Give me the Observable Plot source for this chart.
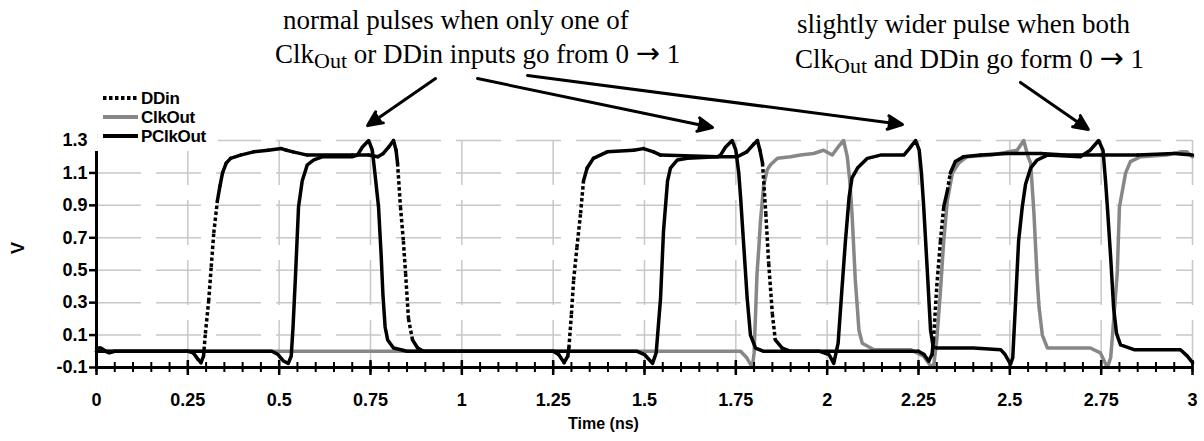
<!DOCTYPE html>
<html><head><meta charset="utf-8">
<script src="https://cdn.jsdelivr.net/npm/d3@7"></script>
<script src="https://cdn.jsdelivr.net/npm/@observablehq/plot@0.6"></script>
<style>
body{margin:0;background:#fff;}
#chart{position:relative;width:1204px;height:441px;}
</style></head><body><div id="chart"></div>
<script>
// ---- tick labels / axes ----
const xMajorTicks = [0,0.25,0.5,0.75,1,1.25,1.5,1.75,2,2.25,2.5,2.75,3];
const xMinorTicks = d3.range(0,61).map(i => +(i*0.05).toFixed(2));
const yTicks = [-0.1,0.1,0.3,0.5,0.7,0.9,1.1,1.3];
const seriesNames = ["DDin","ClkOut","PClkOut"];
const xTitle = "Time (ns)";
const yTitle = "V";

// ---- series: DDin ----
const ddinT = [0,0.25,0.265,0.278,0.286,0.293,0.298,0.307,0.314,0.321,0.331,0.338,0.345,0.355,0.367,0.394,0.43,0.47,0.506,0.52,0.538,0.577,0.70,0.745,0.77,0.785,0.80,0.813,0.820,0.824,0.832,0.84,0.846,0.854,0.865,0.879,0.895,
  1.25,1.265,1.28,1.29,1.293,1.300,1.306,1.315,1.325,1.333,1.343,1.36,1.398,1.47,1.497,1.525,1.544,1.70,1.754,1.78,1.80,1.809,1.816,1.823,1.832,1.84,1.85,1.858,1.877,1.90,
  2.25,2.265,2.278,2.287,2.291,2.30,2.31,2.319,2.329,2.337,2.351,2.373,2.42,2.493,2.584,2.65,2.75,2.85,2.95,3.0];
const ddinV = [0,0,-0.01,-0.05,-0.07,-0.03,0.11,0.31,0.52,0.73,0.93,1.02,1.10,1.16,1.19,1.21,1.23,1.24,1.25,1.24,1.23,1.21,1.21,1.21,1.20,1.22,1.26,1.30,1.24,1.16,0.89,0.68,0.48,0.20,0.07,0.02,0.00,
  0,-0.02,-0.07,-0.03,0.02,0.23,0.44,0.64,0.85,1.05,1.13,1.19,1.23,1.24,1.25,1.23,1.21,1.20,1.20,1.23,1.28,1.30,1.24,1.16,0.85,0.54,0.23,0.07,0.02,0.00,
  0,-0.02,-0.06,-0.02,0.07,0.40,0.68,0.89,0.99,1.10,1.17,1.20,1.21,1.22,1.22,1.21,1.21,1.21,1.22,1.21];

// ---- series: ClkOut ----
const clkT = [0,1.74,1.763,1.78,1.795,1.80,1.804,1.808,1.813,1.817,1.826,1.836,1.845,1.864,1.90,1.927,1.963,1.99,2.014,2.03,2.045,2.055,2.062,2.068,2.077,2.087,2.096,2.128,2.228,2.264,2.28,2.291,2.30,2.31,2.319,2.329,2.343,2.36,2.383,2.45,2.52,2.538,2.55,2.557,2.566,2.575,2.58,2.589,2.603,2.72,2.748,2.767,2.776,2.78,2.794,2.80,2.817,2.83,2.858,2.93,2.967,2.985,3.0];
const clkV = [0,0,0,-0.04,-0.10,-0.01,0.23,0.48,0.64,0.79,1.02,1.12,1.15,1.19,1.20,1.21,1.22,1.24,1.21,1.26,1.30,1.20,1.05,0.85,0.44,0.13,0.05,0.01,0.01,-0.03,-0.08,-0.10,0.07,0.37,0.68,0.93,1.10,1.16,1.20,1.21,1.24,1.30,1.20,1.16,0.85,0.44,0.27,0.10,0.02,0.02,-0.01,-0.10,-0.04,0.07,0.48,0.89,1.10,1.17,1.20,1.21,1.23,1.23,1.20];

// ---- series: PClkOut ----
const pclkT = [0,0.012,0.025,0.035,0.05,0.48,0.497,0.512,0.525,0.533,0.538,0.545,0.553,0.563,0.577,0.595,0.62,0.70,0.714,0.728,0.745,0.755,0.762,0.772,0.779,0.784,0.79,0.797,0.813,0.85,
  1.48,1.50,1.508,1.522,1.532,1.544,1.552,1.563,1.571,1.59,1.617,1.70,1.708,1.722,1.740,1.750,1.758,1.763,1.772,1.781,1.79,1.804,1.826,
  1.98,2.005,2.018,2.03,2.04,2.05,2.06,2.068,2.083,2.11,2.146,2.21,2.225,2.242,2.252,2.258,2.264,2.274,2.283,2.29,2.30,2.40,2.475,2.487,2.502,2.508,2.515,2.524,2.534,2.543,2.557,2.575,2.603,2.693,2.72,2.743,2.755,2.762,2.767,2.776,2.784,2.792,2.803,2.84,2.967,2.986,3.0];
const pclkV = [0.02,0.02,0.00,-0.01,0.00,0.00,-0.02,-0.06,-0.075,-0.03,0.15,0.48,0.89,1.05,1.15,1.18,1.20,1.20,1.21,1.26,1.30,1.24,1.10,0.89,0.60,0.35,0.15,0.07,0.02,0.00,
  0.00,-0.02,-0.04,-0.075,-0.01,0.33,0.74,1.05,1.13,1.18,1.19,1.20,1.21,1.26,1.30,1.24,1.10,0.95,0.64,0.33,0.10,0.02,0.00,
  0.00,-0.02,-0.075,0.05,0.37,0.68,0.95,1.07,1.13,1.19,1.21,1.21,1.25,1.30,1.24,1.10,0.90,0.50,0.13,0.03,0.02,0.02,0.01,-0.02,-0.08,-0.04,0.27,0.68,0.89,1.03,1.13,1.18,1.21,1.20,1.24,1.30,1.24,1.05,0.89,0.58,0.27,0.11,0.04,0.01,0.01,-0.03,-0.07];

// ---- annotation arrows (data units: ns, V) ----
const arrowX1 = [0.928,1.043,1.180,2.529];
const arrowY1 = [1.682,1.682,1.701,1.658];
const arrowX2 = [0.742,1.686,2.206,2.715];
const arrowY2 = [1.392,1.380,1.399,1.368];

const ddinSeg = ddinT.slice(1).map((t,i)=>({t1: ddinT[i], v1: ddinV[i], t2: t, v2: ddinV[i+1]}));
const clk = clkT.map((t,i)=>({t, v: clkV[i]}));
const pclk = pclkT.map((t,i)=>({t, v: pclkV[i]}));
const arrows = arrowX1.map((x1,i)=>({x1, y1: arrowY1[i], x2: arrowX2[i], y2: arrowY2[i]}));

const gridColor = "#c8c8c8";
const gray = "#878787";
const steep = s => Math.abs(s.v2 - s.v1) >= 0.1;

const plot = Plot.plot({
  width: 1204, height: 441,
  marginLeft: 96, marginRight: 12, marginTop: 140, marginBottom: 74,
  x: {domain: [0,3]},
  y: {domain: [-0.1,1.3]},
  style: {fontFamily: "'Liberation Sans', Arial, sans-serif", background: "white", color: "black"},
  marks: [
    Plot.ruleY(yTicks.filter(d => d > -0.1), {y: d => d, stroke: gridColor, strokeWidth: 1.5, strokeDasharray: "45,15"}),
    Plot.ruleX(xMajorTicks.filter(d => d > 0), {x: d => d, stroke: gridColor, strokeWidth: 1.5, strokeDasharray: "45,15"}),
    Plot.line(clk, {x: "t", y: "v", stroke: gray, strokeWidth: 3.5, strokeLinejoin: "round"}),
    Plot.line(pclk, {x: "t", y: "v", stroke: "black", strokeWidth: 3.5, strokeLinejoin: "round"}),
    Plot.link(ddinSeg.filter(s => !steep(s)), {x1: "t1", y1: "v1", x2: "t2", y2: "v2", stroke: "black", strokeWidth: 3.5, strokeLinecap: "round"}),
    Plot.link(ddinSeg.filter(steep), {x1: "t1", y1: "v1", x2: "t2", y2: "v2", stroke: "black", strokeWidth: 3.5, strokeDasharray: "3.5,2.5", strokeLinecap: "butt"}),
    Plot.ruleY([-0.1], {y: d => d, strokeWidth: 3}),
    Plot.ruleX([0], {x: d => d, strokeWidth: 3}),
    Plot.ruleX(xMinorTicks, {x: d => d, y1: () => -0.1, y2: () => -0.1, insetTop: -5, insetBottom: -5, strokeWidth: 2}),
    Plot.ruleX(xMajorTicks, {x: d => d, y1: () => -0.1, y2: () => -0.1, insetTop: -7, insetBottom: -8, strokeWidth: 2.5}),
    Plot.ruleY(yTicks, {y: d => d, x1: () => 0, x2: () => 0, insetLeft: -7, strokeWidth: 2.5}),
    Plot.axisX(xMajorTicks, {tickSize: 0, tickPadding: 26, fontSize: 18, fontWeight: "bold", tickFormat: d => String(d), label: null}),
    Plot.axisY(yTicks, {tickSize: 0, tickPadding: 9, fontSize: 18, fontWeight: "bold", tickFormat: d => d.toFixed(1), label: null}),
    Plot.text([yTitle], {text: d => d, frameAnchor: "left", dx: -78, rotate: -90, fontSize: 18, fontWeight: "bold"}),
    Plot.text([xTitle], {text: d => d, frameAnchor: "bottom", dx: -41, dy: 61, fontSize: 16, fontWeight: "bold"}),
    Plot.arrow(arrows, {x1: "x1", y1: "y1", x2: "x2", y2: "y2", stroke: "black", fill: "black", strokeWidth: 3, headLength: 8, headAngle: 50})
  ]
});

const svg = d3.select(plot);
// legend (white box over the plot's top-left corner)
const legendStyles = {
  DDin: {stroke: "black", dash: "3.5,2.5"},
  ClkOut: {stroke: gray, dash: null},
  PClkOut: {stroke: "black", dash: null}
};
const lg = svg.append("g").attr("text-anchor", "start");
lg.append("rect").attr("x", 88).attr("y", 0).attr("width", 130).attr("height", 151).attr("fill", "white");
seriesNames.forEach((name, i) => {
  const yy = 98 + i * 19;
  lg.append("line").attr("x1", 103).attr("x2", 138).attr("y1", yy).attr("y2", yy)
    .attr("stroke", legendStyles[name].stroke).attr("stroke-width", 4)
    .attr("stroke-dasharray", legendStyles[name].dash);
  lg.append("text").attr("x", 141).attr("y", yy).attr("dy", "0.36em")
    .attr("font-family", "'Liberation Sans', Arial, sans-serif").attr("font-weight", "bold")
    .attr("font-size", 17).attr("letter-spacing", "-0.3").attr("fill", "black").text(name);
});

// annotations
function annot(x, y, parts) {
  const t = svg.append("text").attr("x", x).attr("y", y).attr("text-anchor", "start")
    .attr("font-family", "'Liberation Serif', 'Times New Roman', serif").attr("font-size", 27).attr("fill", "black");
  let sub = false;
  parts.forEach(p => {
    const s = t.append("tspan").text(p.t);
    if (p.sub) { s.attr("font-size", 22).attr("dy", 5); sub = true; }
    else if (sub) { s.attr("dy", -5); sub = false; }
    if (p.arrow) s.attr("font-family", "'DejaVu Sans', sans-serif").attr("font-size", 29);
  });
}
annot(283, 29, [{t: "normal pulses when only one of"}]);
annot(275, 63, [{t: "Clk"}, {t: "Out", sub: true}, {t: " or DDin inputs go from 0 "}, {t: "\u2192", arrow: true}, {t: " 1"}]);
annot(797, 33, [{t: "slightly wider pulse when both"}]);
annot(795, 68, [{t: "Clk"}, {t: "Out", sub: true}, {t: " and DDin go form 0 "}, {t: "\u2192", arrow: true}, {t: " 1"}]);

document.getElementById("chart").appendChild(plot);
</script></body></html>
